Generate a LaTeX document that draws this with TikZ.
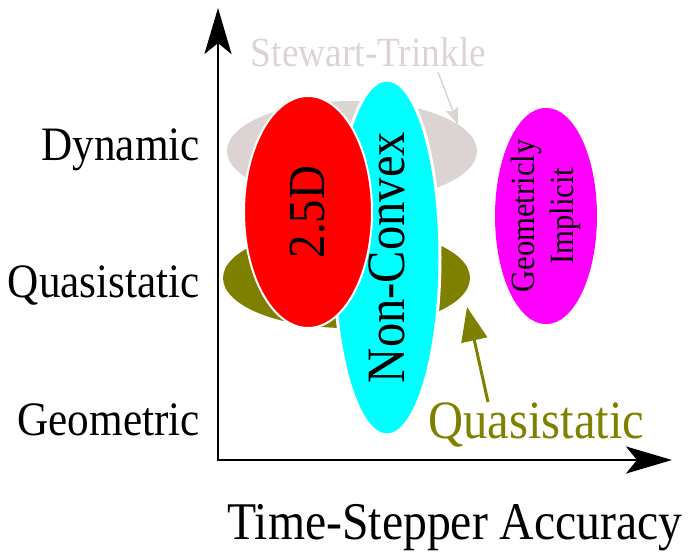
\documentclass[tikz,border=0pt]{standalone}
\usepackage{fontspec}
\setmainfont{Liberation Serif}[FakeStretch=0.9]
\usetikzlibrary{shapes.geometric,arrows.meta}
\definecolor{stgrey}{RGB}{220,211,211}
\definecolor{olivec}{RGB}{128,128,0}
\definecolor{cyanc}{RGB}{0,255,255}
\definecolor{redc}{RGB}{255,0,0}
\definecolor{magentac}{RGB}{255,0,255}
\begin{document}
\begin{tikzpicture}[x=1pt,y=-1pt,
  blob/.style={ellipse, inner sep=0pt, outer sep=0pt},
  rowlab/.style={anchor=base east, inner sep=0pt, font=\fontsize{48}{56}\selectfont},
  lab/.style={anchor=base, inner sep=0pt},
  axisline/.style={line width=2.8pt, {Stealth[length=46pt,width=27pt,inset=11pt]}-{Stealth[length=46pt,width=27pt,inset=11pt]}},
  starrow/.style={line width=1.5pt, draw=stgrey, -{Stealth[length=17pt,width=13pt,inset=3pt]}},
  qarrow/.style={line width=3pt, draw=olivec, -{Triangle[length=34pt,width=26pt]}}]
\useasboundingbox (0,0) rectangle (691,552);
% ellipses
\node[blob, fill=stgrey, minimum width=250pt, minimum height=100pt] (st) at (352,151) {};
\node[blob, fill=olivec, minimum width=247pt, minimum height=100pt] (qs) at (346.5,278) {};
\node[blob, rotate=90, fill=cyanc, draw=white, line width=3pt, minimum width=349pt, minimum height=106pt,
      font=\fontsize{54}{60}\selectfont] (nc) at (387,257.5) {Non-Convex};
\node[blob, rotate=90, fill=redc, draw=white, line width=2pt, minimum width=232pt, minimum height=128pt,
      font=\fontsize{52}{60}\selectfont] (rd) at (308,212) {2.5D};
\node[blob, rotate=90, fill=magentac, minimum width=212pt, minimum height=102pt, align=center,
      font=\fontsize{34}{39}\selectfont] (gi) at (546,216) {Geometricly\\Implicit};
% axes
\coordinate (O) at (218,460);
\coordinate (ytop) at (218,8);
\coordinate (xend) at (672,460);
\draw[axisline] (ytop) -- (O) -- (xend);
% labels
\node[rowlab] (dyn) at (200,160) {Dynamic};
\node[rowlab] (qua) at (200,297) {Quasistatic};
\node[rowlab] (geo) at (200,435) {Geometric};
\node[lab, font=\fontsize{53}{60}\selectfont] (xlab) at (455,539) {Time-Stepper Accuracy};
\node[lab, text=stgrey, font=\fontsize{41.5}{48}\selectfont] (stlab) at (368.5,66) {Stewart-Trinkle};
\node[lab, text=olivec, font=\fontsize{54}{60}\selectfont] (qlab) at (536.5,438) {Quasistatic};
% arrows
\coordinate (sttail) at (438,72);
\draw[starrow] (sttail) -- (st.14);
\coordinate (qtail) at (488,402);
\coordinate (qtip) at (467,307);
\draw[qarrow] (qtail) -- (qtip);
\end{tikzpicture}
\end{document}
